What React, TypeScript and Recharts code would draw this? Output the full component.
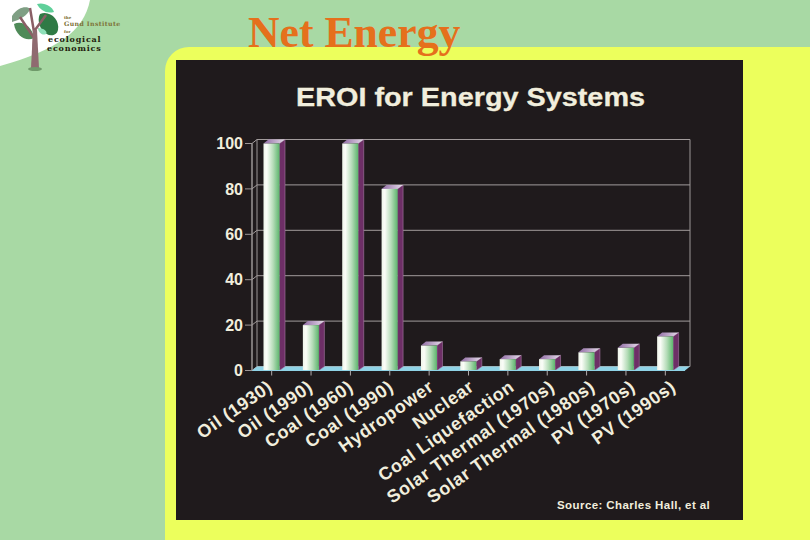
import { BarChart, Bar, XAxis, YAxis, CartesianGrid, ReferenceArea } from 'recharts';

const categories = [
  'Oil (1930)',
  'Oil (1990)',
  'Coal (1960)',
  'Coal (1990)',
  'Hydropower',
  'Nuclear',
  'Coal Liquefaction',
  'Solar Thermal (1970s)',
  'Solar Thermal (1980s)',
  'PV (1970s)',
  'PV (1990s)',
];
const eroi = [100, 20, 100, 80, 11, 4, 5, 5, 8, 10, 15];
const yTicks = [0, 20, 40, 60, 80, 100];

const data = categories.map((name, i) => ({ name, eroi: eroi[i] }));

// depth of the fake 3d look
const DX = 5;
const DY = 4;
const LABEL = '#f1eedd';
const FONT = '"Liberation Sans", Arial, sans-serif';

function Bar3D(props: any) {
  const { x, y, width, height } = props;
  const r = x + width - 0.5;
  const l = x - 0.5;
  const b = y + height;
  return (
    <g>
      <path d={`M${r},${y} L${r + DX + 0.5},${y - DY} L${r + DX + 0.5},${b - DY} L${r},${b} Z`} fill="#6d2f66" stroke="#a77ba6" strokeWidth={0.6} />
      <path d={`M${l},${y} L${l + DX},${y - DY} L${r + DX + 0.5},${y - DY} L${r},${y} Z`} fill="url(#topGrad)" />
      <rect x={l} y={y} width={width} height={height} fill="url(#barGrad)" />
    </g>
  );
}

// back wall and floor, sized from the y scale through the reference area
function Wall(props: any) {
  const { x, y, width, height } = props;
  const r = x + width;
  const b = y + height;
  return (
    <g fill="none" stroke="#9c9696" strokeWidth={1}>
      <line x1={x} y1={y} x2={x} y2={b} />
      <line x1={x + DX} y1={y - DY} x2={x + DX} y2={b - DY} />
      <line x1={r + DX} y1={y - DY} x2={r + DX} y2={b - DY} />
      <path d={`M${x},${b} L${x + DX},${b - DY} L${r + DX},${b - DY} L${r},${b} Z`} fill="#8fd3e6" stroke="none" />
    </g>
  );
}

function gridLine(props: any) {
  const { x1, x2, y1, index } = props;
  return (
    <path
      key={index}
      d={`M${x1},${y1} L${x1 + DX},${y1 - DY} L${x2 + DX},${y1 - DY}`}
      fill="none"
      stroke="#a29c9c"
      strokeWidth={1}
    />
  );
}

function CategoryTick(props: any) {
  const { x, y, payload, index } = props;
  const tx = x + 2 + index * 0.95;
  const ty = y + 12;
  return (
    <text
      x={tx}
      y={ty}
      transform={`rotate(-35 ${tx} ${ty})`}
      textAnchor="end"
      fill={LABEL}
      fontFamily={FONT}
      fontWeight="bold"
      fontSize={18}
      letterSpacing={0.6}
    >
      {payload.value}
    </text>
  );
}

function Logo() {
  return (
    <svg width={140} height={75} style={{ position: 'absolute', left: 0, top: 0 }}>
      <path d="M12,16 C18,6 28,6 30,9 C28,15 20,20 12,22 Z" fill="#7f9f84" />
      <path d="M14,24 C22,20 32,26 34,38 C26,42 16,36 14,24 Z" fill="#4f8a58" />
      <path d="M40,14 C50,10 60,20 58,30 C56,38 46,36 42,30 C38,24 38,18 40,14 Z" fill="#2f7a45" />
      <path d="M37,4 C44,2 52,6 54,12 C46,14 40,10 37,4 Z" fill="#5fd09a" />
      <path d="M38,28 C44,28 48,32 46,34 C42,36 38,32 38,28 Z" fill="#8fe0b8" />
      <path d="M33,68 L34,38 L20,17 M35,38 L30,8 M35,30 L46,15" fill="none" stroke="#8a5f66" strokeWidth={2.5} />
      <path d="M31,68 L33,30 L37,30 L39,68 Z" fill="#8f6a70" />
      <ellipse cx={35} cy={69} rx={7} ry={2} fill="#6f9a6a" />
      <g fontFamily='"DejaVu Serif", serif' fontWeight="bold">
        <text x={64} y={19} fontSize={4} fill="#7a6a2a">the</text>
        <text x={64} y={26} fontSize={6.2} letterSpacing={0.4} fill="#7d7238">Gund Institute</text>
        <text x={64} y={33} fontSize={4} fill="#7a6a2a">for</text>
        <text x={48} y={42} fontSize={8} letterSpacing={0.8} fill="#241c0c">ecological</text>
        <text x={47} y={51} fontSize={8} letterSpacing={0.8} fill="#241c0c">economics</text>
      </g>
    </svg>
  );
}

export default function App() {
  return (
    <div style={{ position: 'absolute', left: 0, top: 0, width: 810, height: 540, overflow: 'hidden', background: '#a8d9a4' }}>
      <svg width={270} height={90} style={{ position: 'absolute', left: 0, top: 0 }}>
        <path d="M0,0 L90,0 C84,32 56,50 0,66 Z" fill="#fff" />
      </svg>
      <Logo />
      <div
        style={{
          position: 'absolute',
          left: 165,
          top: 47,
          width: 700,
          height: 540,
          background: '#ecff5c',
          borderTopLeftRadius: 24,
        }}
      />
      <div
        style={{
          position: 'absolute',
          left: 248,
          top: 7,
          fontFamily: '"Liberation Serif", serif',
          fontWeight: 'bold',
          fontSize: 43.7,
          lineHeight: '50px',
          color: '#e5701c',
          whiteSpace: 'nowrap',
        }}
      >
        Net Energy
      </div>
      <div style={{ position: 'absolute', left: 176, top: 60, width: 567, height: 460, background: '#1f1a1c' }} />
      <div
        style={{
          position: 'absolute',
          left: 296,
          top: 81,
          fontFamily: FONT,
          fontWeight: 'bold',
          fontSize: 26,
          lineHeight: '32px',
          color: LABEL,
          whiteSpace: 'nowrap',
          transform: 'scaleX(1.108)',
          transformOrigin: 'left center',
          WebkitTextStroke: '0.3px #f1eedd',
        }}
      >
        EROI for Energy Systems
      </div>
      <div
        style={{
          position: 'absolute',
          left: 557,
          top: 498,
          fontFamily: FONT,
          fontWeight: 'bold',
          fontSize: 11.5,
          lineHeight: '14px',
          letterSpacing: 0.42,
          color: LABEL,
          whiteSpace: 'nowrap',
        }}
      >
        Source: Charles Hall, et al
      </div>
      <div style={{ position: 'absolute', left: 0, top: 0 }}>
        <BarChart
          width={810}
          height={540}
          data={data}
          margin={{ top: 143.5, right: 125, left: 202, bottom: 9.5 }}
          style={{ overflow: 'visible' }}
        >
          <defs>
            <linearGradient id="barGrad" x1="0" y1="0" x2="1" y2="0">
              <stop offset="0%" stopColor="#eef5ea" />
              <stop offset="20%" stopColor="#fbfdf8" />
              <stop offset="60%" stopColor="#b5dcb8" />
              <stop offset="100%" stopColor="#5db56d" />
            </linearGradient>
            <linearGradient id="topGrad" x1="0" y1="0" x2="1" y2="0">
              <stop offset="0%" stopColor="#8f6aa3" />
              <stop offset="100%" stopColor="#e6dcea" />
            </linearGradient>
          </defs>
          <ReferenceArea y1={0} y2={100} shape={Wall} ifOverflow="visible" />
          <CartesianGrid vertical={false} horizontal={gridLine} />
          <XAxis
            dataKey="name"
            interval={0}
            height={160}
            tick={CategoryTick}
            tickLine={{ stroke: '#b0aaaa' }}
            axisLine={{ stroke: '#8fd3e6' }}
            tickSize={5}
          />
          <YAxis
            width={50}
            domain={[0, 100]}
            ticks={yTicks}
            tick={{ fill: LABEL, fontSize: 16, fontWeight: 'bold', fontFamily: FONT }}
            tickLine={{ stroke: '#9c9696' }}
            axisLine={{ stroke: '#9c9696' }}
            tickSize={7}
            tickMargin={2}
          />
          <Bar dataKey="eroi" barSize={16} shape={Bar3D} isAnimationActive={false} />
        </BarChart>
      </div>
    </div>
  );
}
